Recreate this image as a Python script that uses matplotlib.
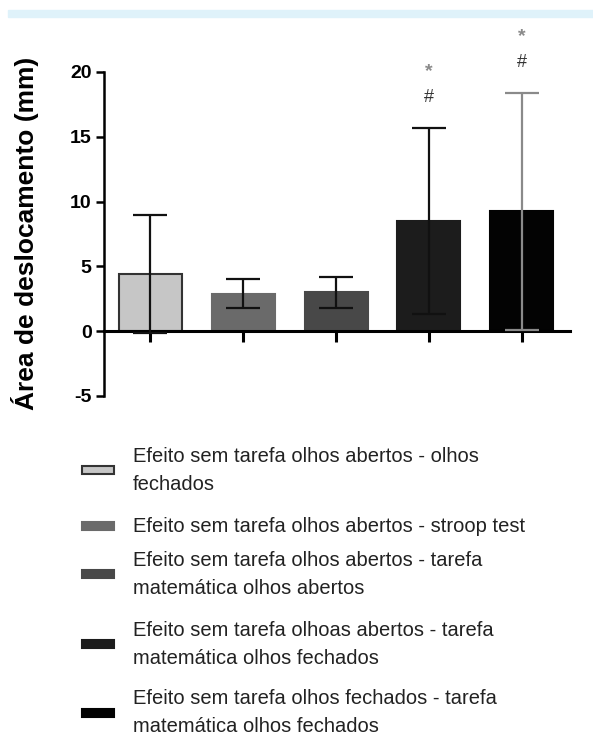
import numpy as np
import matplotlib.pyplot as plt
from matplotlib.patches import Rectangle

plt.rcParams['font.family'] = ['Liberation Sans', 'DejaVu Sans']
plt.rcParams['axes.unicode_minus'] = False

# dados
labels = [
    'Efeito sem tarefa olhos abertos - olhos\nfechados',
    'Efeito sem tarefa olhos abertos - stroop test',
    'Efeito sem tarefa olhos abertos - tarefa\nmatemática olhos abertos',
    'Efeito sem tarefa olhoas abertos - tarefa\nmatemática olhos fechados',
    'Efeito sem tarefa olhos fechados - tarefa\nmatemática olhos fechados',
]
means = [4.4, 2.9, 3.0, 8.5, 9.25]
sds = [4.55, 1.1, 1.2, 7.2, 9.15]
marks = ['', '', '', '#', '#']
stars = ['', '', '', '*', '*']

colors = ['#c6c6c6', '#6a6a6a', '#484848', '#1c1c1c', '#030303']
err_colors = ['#111111', '#111111', '#111111', '#111111', '#8a8a8a']

fig = plt.figure(figsize=(5.93, 7.36), dpi=100)

# faixa azul clara no topo
fig.patches.append(Rectangle((8 / 593, 1 - 17 / 736), 1, 7 / 736,
                             transform=fig.transFigure, color='#dff2fa', zorder=0))

ax = fig.add_axes([104 / 593, 1 - 396 / 736, 466 / 593, 324 / 736])
x = np.arange(len(means))

for i in range(len(means)):
    ax.bar(x[i], means[i], width=0.68, color=colors[i],
           edgecolor='#333333' if i == 0 else colors[i], linewidth=1.5, zorder=2)
    ax.errorbar(x[i], means[i], yerr=sds[i], fmt='none', ecolor=err_colors[i],
                elinewidth=1.6, capsize=12, capthick=1.6, zorder=3)
    top = means[i] + sds[i]
    if marks[i]:
        ax.text(x[i], top + 2.3, marks[i], ha='center', va='center',
                fontsize=13, color='#333333', clip_on=False)
    if stars[i]:
        ax.text(x[i], top + 4.3, stars[i], ha='center', va='center',
                fontsize=14, fontweight='bold', color='#8a8a8a', clip_on=False)

ax.set_xlim(-0.5, 4.52)
ax.set_ylim(-5, 20)
ax.set_yticks([-5, 0, 5, 10, 15, 20])
ax.set_xticks(x)
ax.set_xticklabels([])

ax.spines['top'].set_visible(False)
ax.spines['right'].set_visible(False)
ax.spines['bottom'].set_position(('data', 0))
ax.spines['left'].set_linewidth(1.8)
ax.spines['bottom'].set_linewidth(2.2)
ax.tick_params(axis='y', length=6, width=1.8, labelsize=14, pad=3)
ax.tick_params(axis='x', length=8, width=2.2, direction='out')
for t in ax.get_yticklabels():
    t.set_fontweight('bold')

fig.text(25 / 593, 1 - 233 / 736, 'Área de deslocamento (mm)', rotation=90,
         ha='center', va='center', fontsize=19, fontweight='bold')

# legenda manual
leg_y = [470, 526, 574, 644, 713]
for i in range(len(labels)):
    yc = 1 - leg_y[i] / 736
    fig.patches.append(Rectangle((82 / 593, yc - 4 / 736), 32 / 593, 8 / 736,
                                 transform=fig.transFigure, facecolor=colors[i],
                                 edgecolor='#333333' if i == 0 else colors[i],
                                 linewidth=1.5))
    fig.text(133 / 593, yc, labels[i], ha='left', va='center', fontsize=14.5,
             color='#222222', linespacing=1.6)

fig.savefig('out.png', dpi=100)
